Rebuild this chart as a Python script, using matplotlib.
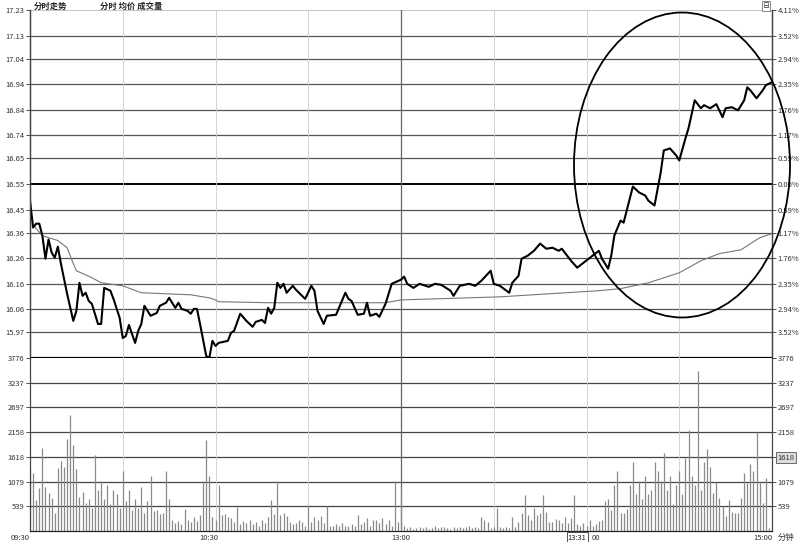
import numpy as np
import matplotlib.pyplot as plt
from matplotlib.patches import Ellipse

plt.rcParams['font.family'] = ['Noto Sans CJK SC', 'DejaVu Sans']

# intraday price (minute index 0..240, 11:30/13:00 shared at 120)
price_min = [0, 1, 2, 3, 4, 5, 6, 7, 8, 9, 10, 12, 14, 15, 16, 17, 18, 19, 20, 22,
             23, 24, 26, 27, 29, 30, 31, 32, 34, 35, 36, 37, 39, 41, 42, 44, 45, 47, 48, 49,
             51, 52, 53, 54, 55, 57, 58, 59, 60, 61, 64, 65, 66, 68, 70, 72, 73, 75, 76, 77,
             78, 79, 80, 81, 82, 83, 85, 86, 89, 91, 92, 93, 95, 96, 99, 102, 103, 104, 106, 108,
             109, 110, 112, 113, 115, 117, 120, 121, 122, 124, 126, 129, 131, 133, 136, 137, 139, 142, 144, 146,
             149, 150, 152, 155, 156, 158, 159, 161, 163, 165, 167, 169, 171, 172, 175, 177, 179, 182, 184, 185,
             187, 188, 189, 191, 192, 193, 195, 197, 199, 200, 202, 204, 205, 207, 209, 210, 212, 213, 215, 217,
             218, 220, 222, 224, 225, 227, 229, 231, 232, 233, 235, 237, 238, 240]
price = [16.485, 16.380, 16.395, 16.395, 16.348, 16.258, 16.333, 16.282, 16.262, 16.305,
         16.239, 16.121, 16.015, 16.054, 16.164, 16.113, 16.125, 16.093, 16.082, 16.003,
         16.003, 16.144, 16.133, 16.101, 16.027, 15.948, 15.956, 15.999, 15.929, 15.976,
         16.003, 16.074, 16.035, 16.046, 16.074, 16.086, 16.105, 16.066, 16.086, 16.062,
         16.054, 16.043, 16.062, 16.062, 16.003, 15.878, 15.870, 15.937, 15.917, 15.929,
         15.937, 15.968, 15.976, 16.043, 16.015, 15.992, 16.011, 16.019, 16.007, 16.066,
         16.043, 16.066, 16.164, 16.144, 16.160, 16.125, 16.152, 16.137, 16.101, 16.152,
         16.133, 16.054, 16.003, 16.035, 16.039, 16.125, 16.101, 16.093, 16.039, 16.043,
         16.086, 16.035, 16.043, 16.031, 16.082, 16.160, 16.176, 16.188, 16.160, 16.144,
         16.160, 16.148, 16.160, 16.156, 16.133, 16.113, 16.152, 16.160, 16.152, 16.172,
         16.211, 16.160, 16.152, 16.125, 16.164, 16.191, 16.258, 16.270, 16.289, 16.317,
         16.297, 16.301, 16.289, 16.297, 16.250, 16.223, 16.242, 16.270, 16.289, 16.258,
         16.219, 16.270, 16.348, 16.407, 16.399, 16.446, 16.540, 16.517, 16.505, 16.485,
         16.466, 16.595, 16.681, 16.689, 16.662, 16.642, 16.728, 16.768, 16.877, 16.846,
         16.858, 16.846, 16.862, 16.811, 16.846, 16.850, 16.838, 16.877, 16.928, 16.916,
         16.885, 16.916, 16.936, 16.948]

avg_min = [1, 4, 9, 12, 14, 15, 20, 23, 30, 36, 52, 58, 60, 61, 77, 91, 115, 120,
           152, 168, 184, 191, 200, 210, 217, 223, 230, 236, 240]
avg_price = [16.39, 16.348, 16.329, 16.301, 16.239, 16.211, 16.184, 16.164, 16.152, 16.125,
             16.117, 16.105, 16.097, 16.090, 16.086, 16.086, 16.086, 16.097,
             16.109, 16.121, 16.133, 16.141, 16.164, 16.203, 16.250, 16.278, 16.293, 16.340, 16.356]

# volume per minute, 241 bars
volume = [1370, 1265, 676, 937, 1810, 959, 828, 719, 400, 1373,
          1526, 1395, 2006, 2529, 1875, 1352, 741, 850, 610, 698,
          500, 1657, 900, 1100, 700, 1000, 600, 900, 800, 500,
          1300, 650, 900, 450, 700, 500, 950, 400, 650, 1200,
          430, 450, 380, 400, 1300, 700, 250, 180, 220, 150,
          480, 250, 200, 300, 220, 350, 1100, 1980, 1200, 300,
          250, 1000, 350, 380, 300, 280, 200, 530, 150, 220,
          180, 250, 150, 200, 120, 250, 180, 300, 680, 380,
          1100, 350, 400, 330, 200, 150, 180, 250, 200, 120,
          570, 200, 300, 250, 320, 180, 540, 120, 120, 150,
          100, 180, 120, 100, 150, 120, 350, 150, 200, 280,
          120, 250, 230, 180, 280, 150, 250, 100, 1100, 200,
          900, 100, 60, 80, 50, 70, 90, 60, 80, 50,
          70, 100, 60, 80, 90, 60, 50, 80, 70, 90,
          60, 80, 100, 70, 90, 60, 300, 250, 200, 60,
          80, 500, 80, 60, 90, 70, 300, 80, 200, 390,
          790, 350, 250, 500, 350, 400, 790, 420, 200, 200,
          260, 240, 180, 300, 180, 280, 790, 150, 100, 180,
          120, 240, 100, 150, 220, 250, 650, 700, 450, 1000,
          1300, 400, 390, 480, 1000, 1500, 800, 1100, 700, 1200,
          800, 900, 1500, 1300, 1100, 1700, 900, 1200, 600, 1000,
          1300, 800, 1600, 2200, 1200, 1000, 3500, 900, 1500, 1800,
          1390, 830, 1070, 720, 540, 330, 680, 420, 400, 400,
          720, 1260, 1040, 1460, 1300, 2160, 1040, 610, 1150, 70,
          50]

price_levels = [17.23, 17.13, 17.04, 16.94, 16.84, 16.74, 16.65, 16.55,
                16.45, 16.36, 16.26, 16.16, 16.06, 15.97, 15.87]
price_labels = ['17.23', '17.13', '17.04', '16.94', '16.84', '16.74', '16.65', '16.55',
                '16.45', '16.36', '16.26', '16.16', '16.06', '15.97']
pct_labels = ['4.11%', '3.52%', '2.94%', '2.35%', '1.76%', '1.17%', '0.59%', '0.00%',
              '0.59%', '1.17%', '1.76%', '2.35%', '2.94%', '3.52%']
vol_levels = [539, 1079, 1618, 2158, 2697, 3237, 3776]
vol_labels = ['539', '1079', '1618', '2158', '2697', '3237', '3776']
vlines_min = [30, 60, 90, 150, 180, 210]

W, H = 800, 542
fig = plt.figure(figsize=(8, 5.42), dpi=100)
x0, x1 = 30, 772
ax = fig.add_axes([x0 / W, 1 - 358 / H, (x1 - x0) / W, 348 / H])
axv = fig.add_axes([x0 / W, 1 - 531 / H, (x1 - x0) / W, 173 / H])

lab_kw = dict(fontsize=5.5, color='#333333')

# price panel
ax.set_xlim(0, 240)
ax.set_ylim(price_levels[-1], price_levels[0])
for lv in price_levels[1:-1]:
    if lv == 16.55:
        ax.axhline(lv, color='black', lw=1.4, zorder=1)
    else:
        ax.axhline(lv, color='#555555', lw=0.9, zorder=1)
ax.axhline(price_levels[-1], color='black', lw=1.6, zorder=1)
ax.axhline(price_levels[0], color='#bbbbbb', lw=0.6, zorder=1)
for m in vlines_min:
    ax.axvline(m, color='#cccccc', lw=0.6, zorder=1)
ax.axvline(120, color='#666666', lw=0.9, zorder=1)
ax.plot(avg_min, avg_price, color='#777777', lw=0.8, zorder=2)
ax.plot(price_min, price, color='black', lw=1.5, zorder=3)

ax.set_yticks(price_levels[:-1])
ax.set_yticklabels(price_labels, **lab_kw)
ax.tick_params(axis='y', length=3, width=0.6, pad=1, colors='#333333')
ax.set_xticks([])
axr = ax.twinx()
axr.set_ylim(ax.get_ylim())
axr.set_yticks(price_levels[:-1])
axr.set_yticklabels(pct_labels, **lab_kw)
axr.tick_params(axis='y', length=3, width=0.6, pad=1, colors='#333333')

for a in (ax, axr):
    a.spines['top'].set_visible(False)
    a.spines['bottom'].set_visible(False)
    a.spines['left'].set_color('#444444')
    a.spines['right'].set_color('#444444')
    a.spines['left'].set_linewidth(0.9)
    a.spines['right'].set_linewidth(0.9)

# volume panel
minutes = np.arange(len(volume))
axv.set_xlim(0, 240)
axv.set_ylim(0, 3776)
for lv in vol_levels[:-1]:
    axv.axhline(lv, color='#444444', lw=0.9, zorder=1)
for m in vlines_min:
    axv.axvline(m, color='#cccccc', lw=0.6, zorder=1)
axv.axvline(120, color='#666666', lw=0.9, zorder=1)
axv.vlines(minutes, 0, volume, color='#8a8a8a', lw=0.9, zorder=2)
axv.set_yticks(vol_levels)
axv.set_yticklabels(vol_labels, **lab_kw)
axv.tick_params(axis='y', length=3, width=0.6, pad=1, colors='#333333')
axv.set_xticks([])
axvr = axv.twinx()
axvr.set_ylim(0, 3776)
axvr.set_yticks(vol_levels)
axvr.set_yticklabels(vol_labels, **lab_kw)
axvr.tick_params(axis='y', length=3, width=0.6, pad=1, colors='#333333')
axvr.get_yticklabels()[2].set_bbox(dict(boxstyle='square,pad=0.2', fc='#dddddd', ec='#555555', lw=0.6))
for a in (axv, axvr):
    a.spines['top'].set_visible(False)
    a.spines['left'].set_color('#444444')
    a.spines['right'].set_color('#444444')
    a.spines['bottom'].set_color('#222222')

# time labels
tr = axv.get_xaxis_transform()
axv.text(0, -0.015, '09:30', transform=tr, ha='right', va='top', **lab_kw)
axv.text(58, -0.015, '10:30', transform=tr, ha='center', va='top', **lab_kw)
axv.text(120, -0.015, '13:00', transform=tr, ha='center', va='top', **lab_kw)
axv.text(177, -0.015, '13:31', transform=tr, ha='center', va='top', fontsize=5.5, color='#222222',
         bbox=dict(boxstyle='square,pad=0.15', fc='white', ec='#333333', lw=0.6))
axv.text(181.5, -0.015, '00', transform=tr, ha='left', va='top', **lab_kw)
axv.text(240, -0.015, '15:00', transform=tr, ha='right', va='top', **lab_kw)
fig.text(786 / W, 1 - 537 / H, '分钟', ha='center', va='center', fontsize=6, color='#333333')

# header texts
fig.text(34 / W, 1 - 6 / H, '分时走势', ha='left', va='center', fontsize=6, color='#222222', weight='bold')
fig.text(100 / W, 1 - 6 / H, '分时 均价 成交量', ha='left', va='center', fontsize=6, color='#222222', weight='bold')
fig.text(766 / W, 1 - 6 / H, '日', ha='center', va='center', fontsize=5, color='#333333',
         bbox=dict(boxstyle='square,pad=0.1', fc='white', ec='#555555', lw=0.5))

# hand drawn circle around the late rally
ell = Ellipse((682 / W, 1 - 165 / H), 216 / W, 305 / H, transform=fig.transFigure,
              fill=False, ec='black', lw=1.3, clip_on=False, zorder=10)
fig.add_artist(ell)

fig.savefig('out.png', dpi=100)
